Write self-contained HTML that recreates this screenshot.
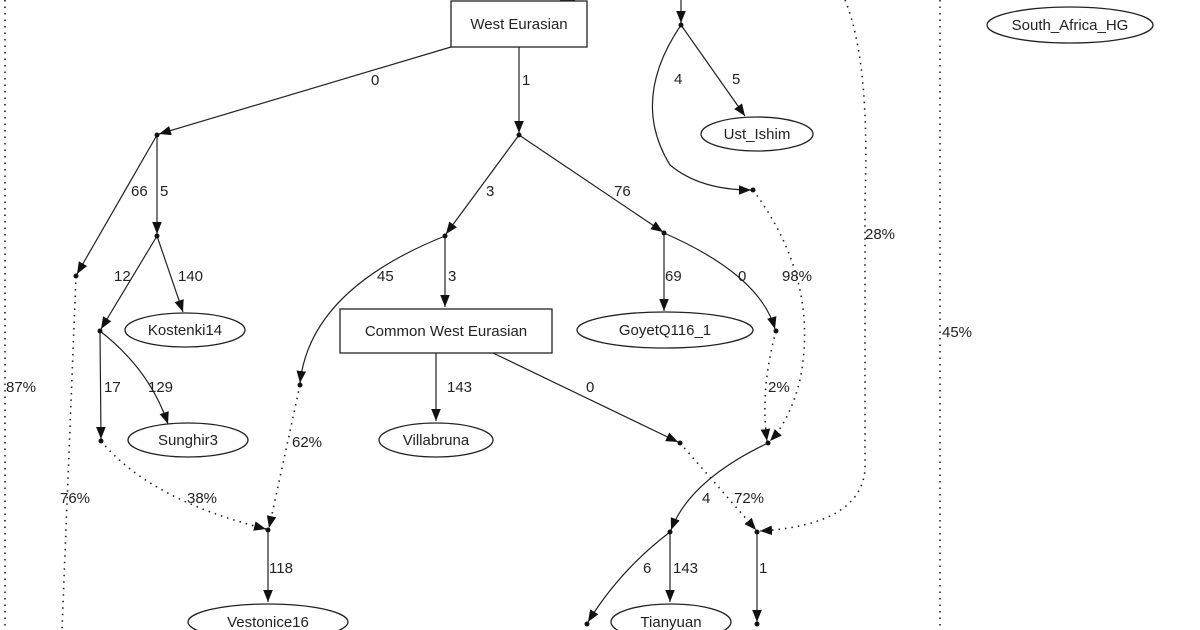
<!DOCTYPE html>
<html><head><meta charset="utf-8"><style>
html,body{margin:0;padding:0;background:#fff;}
svg{display:block;}
text{font-family:"Liberation Sans",Arial,sans-serif;font-size:15px;fill:#222;}
</style></head><body>
<svg width="1200" height="630" viewBox="0 0 1200 630" xmlns="http://www.w3.org/2000/svg">
<defs>
<marker id="a" viewBox="0 0 10 10" refX="10" refY="5" markerWidth="12" markerHeight="12" markerUnits="userSpaceOnUse" orient="auto"><path d="M0,1 L10,5 L0,9 z" fill="#111"/></marker>
</defs>
<g fill="none" stroke="#222" stroke-width="1.2">
<line x1="451" y1="47" x2="159" y2="134" marker-end="url(#a)"/>
<line x1="519" y1="47" x2="519" y2="133" marker-end="url(#a)"/>
<line x1="157" y1="135" x2="157" y2="234" marker-end="url(#a)"/>
<line x1="157" y1="135" x2="77" y2="274" marker-end="url(#a)"/>
<line x1="157" y1="236" x2="101" y2="329" marker-end="url(#a)"/>
<line x1="157" y1="236" x2="183" y2="312" marker-end="url(#a)"/>
<line x1="100" y1="331" x2="101" y2="439" marker-end="url(#a)"/>
<path d="M100,331 Q150,370 168,424" marker-end="url(#a)"/>
<line x1="519" y1="135" x2="446" y2="234" marker-end="url(#a)"/>
<line x1="519" y1="135" x2="663" y2="232" marker-end="url(#a)"/>
<line x1="445" y1="236" x2="445" y2="307" marker-end="url(#a)"/>
<path d="M445,236 Q310,290 300,383" marker-end="url(#a)"/>
<line x1="664" y1="233" x2="664" y2="311" marker-end="url(#a)"/>
<path d="M664,233 Q760,275 775,329" marker-end="url(#a)"/>
<line x1="436" y1="353" x2="436" y2="421" marker-end="url(#a)"/>
<line x1="493" y1="353" x2="678" y2="442" marker-end="url(#a)"/>
<line x1="681" y1="0" x2="681" y2="23" marker-end="url(#a)"/>
<line x1="681" y1="25" x2="745" y2="116" marker-end="url(#a)"/>
<path d="M681,25 Q630,100 670,165 Q700,190 751,190" marker-end="url(#a)"/>
<path d="M768,443 Q690,480 671,530" marker-end="url(#a)"/>
<line x1="268" y1="530" x2="268" y2="602" marker-end="url(#a)"/>
<path d="M670,532 Q620,570 588,622" marker-end="url(#a)"/>
<line x1="670" y1="532" x2="670" y2="602" marker-end="url(#a)"/>
<line x1="757" y1="532" x2="757" y2="622" marker-end="url(#a)"/>
<line x1="560" y1="0" x2="575" y2="0"/>
</g>
<g fill="none" stroke="#222" stroke-width="1.6" stroke-dasharray="1.5,5">
<line x1="5" y1="0" x2="5" y2="630"/>
<line x1="940" y1="0" x2="940" y2="630"/>
<line x1="76" y1="276" x2="62" y2="630"/>
<path d="M101,441 Q150,500 266,529" marker-end="url(#a)"/>
<line x1="300" y1="385" x2="269" y2="528" marker-end="url(#a)"/>
<path d="M753,190 Q820,280 800,380 Q790,420 770,441" marker-end="url(#a)"/>
<path d="M776,331 Q760,390 767,441" marker-end="url(#a)"/>
<line x1="680" y1="443" x2="756" y2="530" marker-end="url(#a)"/>
<path d="M845,0 Q870,60 865,200 L865,470 Q860,525 760,531" marker-end="url(#a)"/>
</g>
<g fill="#111">
<circle cx="157" cy="135" r="2.5"/><circle cx="519" cy="135" r="2.5"/>
<circle cx="157" cy="236" r="2.5"/><circle cx="76" cy="276" r="2.5"/>
<circle cx="100" cy="331" r="2.5"/><circle cx="445" cy="236" r="2.5"/>
<circle cx="664" cy="233" r="2.5"/><circle cx="101" cy="441" r="2.5"/>
<circle cx="300" cy="385" r="2.5"/><circle cx="776" cy="331" r="2.5"/>
<circle cx="680" cy="443" r="2.5"/><circle cx="768" cy="443" r="2.5"/>
<circle cx="268" cy="530" r="2.5"/><circle cx="670" cy="532" r="2.5"/>
<circle cx="757" cy="532" r="2.5"/><circle cx="681" cy="25" r="2.5"/>
<circle cx="753" cy="190" r="2.5"/><circle cx="587" cy="624" r="2.5"/>
<circle cx="757" cy="624" r="2.5"/>
</g>
<g fill="#fff" stroke="#222" stroke-width="1.3">
<rect x="451" y="1" width="136" height="46"/>
<rect x="340" y="309" width="212" height="44"/>
<ellipse cx="1070" cy="25" rx="83" ry="18"/>
<ellipse cx="757" cy="134" rx="56" ry="17"/>
<ellipse cx="185" cy="330" rx="60" ry="17"/>
<ellipse cx="665" cy="330" rx="88" ry="18"/>
<ellipse cx="188" cy="440" rx="60" ry="17"/>
<ellipse cx="436" cy="440" rx="57" ry="17"/>
<ellipse cx="268" cy="622" rx="80" ry="18"/>
<ellipse cx="671" cy="622" rx="60" ry="18"/>
</g>
<g text-anchor="middle">
<text x="519" y="29">West Eurasian</text>
<text x="446" y="336">Common West Eurasian</text>
<text x="1070" y="30">South_Africa_HG</text>
<text x="757" y="139">Ust_Ishim</text>
<text x="185" y="335">Kostenki14</text>
<text x="665" y="335">GoyetQ116_1</text>
<text x="188" y="445">Sunghir3</text>
<text x="436" y="445">Villabruna</text>
<text x="268" y="627">Vestonice16</text>
<text x="671" y="627">Tianyuan</text>
</g>
<g>
<text x="371" y="85">0</text><text x="522" y="85">1</text>
<text x="131" y="196">66</text><text x="160" y="196">5</text>
<text x="114" y="281">12</text><text x="178" y="281">140</text>
<text x="104" y="392">17</text><text x="148" y="392">129</text>
<text x="486" y="196">3</text><text x="614" y="196">76</text>
<text x="448" y="281">3</text><text x="377" y="281">45</text>
<text x="665" y="281">69</text><text x="738" y="281">0</text>
<text x="447" y="392">143</text><text x="586" y="392">0</text>
<text x="674" y="84">4</text><text x="732" y="84">5</text>
<text x="782" y="281">98%</text><text x="768" y="392">2%</text>
<text x="865" y="239">28%</text><text x="942" y="337">45%</text>
<text x="6" y="392">87%</text><text x="60" y="503">76%</text>
<text x="187" y="503">38%</text><text x="292" y="447">62%</text>
<text x="269" y="573">118</text><text x="702" y="503">4</text>
<text x="734" y="503">72%</text><text x="643" y="573">6</text>
<text x="673" y="573">143</text><text x="759" y="573">1</text>
</g>
</svg>
</body></html>
